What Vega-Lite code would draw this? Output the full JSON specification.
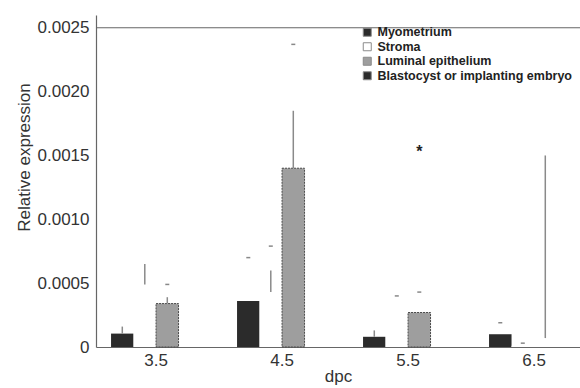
{
  "$schema": "https://vega.github.io/schema/vega-lite/v6.json",
  "width": 484,
  "height": 332,
  "autosize": {"type": "none"},
  "padding": {"left": 96, "top": 15, "right": 0, "bottom": 41},
  "background": "white",
  "view": {"stroke": null},
  "config": {
    "font": "Liberation Sans",
    "axis": {"grid": false, "ticks": false, "domainColor": "#666", "domainWidth": 1.2, "labelColor": "#333", "titleColor": "#333", "titleFontWeight": "normal", "labelFont": "Liberation Sans", "titleFont": "Liberation Sans"}
  },
  "data": {
    "values": [
      {"dpc": "3.5", "tissue": "Myometrium", "value": 0.000105, "lo": 0.000105, "hi": 0.00016, "cap": null, "star": null},
      {"dpc": "3.5", "tissue": "Stroma", "value": 0.00049, "lo": 0.00049, "hi": 0.00065, "cap": null, "star": null},
      {"dpc": "3.5", "tissue": "Luminal epithelium", "value": 0.00034, "lo": 0.00034, "hi": 0.00039, "cap": 0.00049, "star": null},
      {"dpc": "3.5", "tissue": "Blastocyst or implanting embryo", "value": null, "lo": null, "hi": null, "cap": null, "star": null},
      {"dpc": "4.5", "tissue": "Myometrium", "value": 0.00036, "lo": null, "hi": null, "cap": 0.0007, "star": null},
      {"dpc": "4.5", "tissue": "Stroma", "value": 0.00043, "lo": 0.00043, "hi": 0.0006, "cap": 0.00079, "star": null},
      {"dpc": "4.5", "tissue": "Luminal epithelium", "value": 0.0014, "lo": 0.0014, "hi": 0.00185, "cap": 0.00237, "star": null},
      {"dpc": "4.5", "tissue": "Blastocyst or implanting embryo", "value": null, "lo": null, "hi": null, "cap": null, "star": null},
      {"dpc": "5.5", "tissue": "Myometrium", "value": 0.00008, "lo": 0.00008, "hi": 0.00013, "cap": null, "star": null},
      {"dpc": "5.5", "tissue": "Stroma", "value": 0.0002, "lo": null, "hi": null, "cap": 0.0004, "star": null},
      {"dpc": "5.5", "tissue": "Luminal epithelium", "value": 0.00027, "lo": null, "hi": null, "cap": 0.00043, "star": 0.00155},
      {"dpc": "5.5", "tissue": "Blastocyst or implanting embryo", "value": null, "lo": null, "hi": null, "cap": null, "star": null},
      {"dpc": "6.5", "tissue": "Myometrium", "value": 0.0001, "lo": null, "hi": null, "cap": 0.00019, "star": null},
      {"dpc": "6.5", "tissue": "Stroma", "value": 0.00001, "lo": null, "hi": null, "cap": 0.00003, "star": null},
      {"dpc": "6.5", "tissue": "Luminal epithelium", "value": null, "lo": 0.00007, "hi": 0.0015, "cap": null, "star": null},
      {"dpc": "6.5", "tissue": "Blastocyst or implanting embryo", "value": null, "lo": null, "hi": null, "cap": null, "star": null}
    ]
  },
  "layer": [
    {
      "mark": {"type": "bar", "strokeWidth": 1},
      "encoding": {
        "x": {"field": "dpc", "type": "nominal", "sort": ["3.5", "4.5", "5.5", "6.5"], "scale": {"paddingInner": 0.2857, "paddingOuter": 0.0635, "align": 0.94}, "axis": {"title": "dpc", "labelAngle": 0, "labelFontSize": 17, "labelPadding": 5, "titleFontSize": 17, "titlePadding": 0}},
        "xOffset": {"field": "tissue", "type": "nominal", "sort": ["Myometrium", "Stroma", "Luminal epithelium", "Blastocyst or implanting embryo"], "scale": {"domain": ["Myometrium", "Stroma", "Luminal epithelium", "Blastocyst or implanting embryo"], "paddingInner": 0, "paddingOuter": 0}},
        "y": {"field": "value", "type": "quantitative", "scale": {"domain": [0, 0.0025]}, "axis": {"title": "Relative expression", "values": [0, 0.0005, 0.001, 0.0015, 0.002, 0.0025], "labelExpr": "datum.value === 0 ? '0' : format(datum.value, '.4f')", "labelFontSize": 17, "labelPadding": 7, "titleFontSize": 17, "titleX": -63, "titleY": 142, "titleAngle": 270, "titleAlign": "center", "titleBaseline": "bottom"}},
        "fill": {"field": "tissue", "type": "nominal", "scale": {"domain": ["Myometrium", "Stroma", "Luminal epithelium", "Blastocyst or implanting embryo"], "range": ["#2b2b2b", "#ffffff", "#9e9e9e", "#2b2b2b"]}, "legend": {"orient": "none", "legendX": 265, "legendY": 11, "title": null, "symbolType": "square", "symbolSize": 64, "symbolStrokeColor": "#8a8a8a", "symbolStrokeWidth": 1, "labelFont": "Liberation Sans", "labelFontWeight": "bold", "labelFontSize": 12.5, "labelColor": "#222", "labelLimit": 400, "rowPadding": 1.5, "padding": 0, "labelOffset": 4}},
        "stroke": {"condition": {"test": "datum.tissue === 'Luminal epithelium'", "value": "#4a4a4a"}, "value": null},
        "strokeDash": {"condition": {"test": "datum.tissue === 'Luminal epithelium'", "value": [2, 1]}, "value": [1, 0]}
      }
    },
    {
      "mark": {"type": "rule", "color": "#8a8a8a", "strokeWidth": 1.5},
      "encoding": {
        "x": {"field": "dpc", "type": "nominal", "sort": ["3.5", "4.5", "5.5", "6.5"]},
        "xOffset": {"field": "tissue", "type": "nominal", "sort": ["Myometrium", "Stroma", "Luminal epithelium", "Blastocyst or implanting embryo"]},
        "y": {"field": "lo", "type": "quantitative"},
        "y2": {"field": "hi"}
      }
    },
    {
      "mark": {"type": "tick", "color": "#555", "size": 4, "thickness": 1.5, "orient": "horizontal"},
      "encoding": {
        "x": {"field": "dpc", "type": "nominal", "sort": ["3.5", "4.5", "5.5", "6.5"]},
        "xOffset": {"field": "tissue", "type": "nominal", "sort": ["Myometrium", "Stroma", "Luminal epithelium", "Blastocyst or implanting embryo"]},
        "y": {"field": "cap", "type": "quantitative"}
      }
    },
    {
      "mark": {"type": "text", "text": "*", "fontSize": 16, "fontWeight": "bold", "color": "#222", "baseline": "middle", "dy": 3},
      "encoding": {
        "x": {"field": "dpc", "type": "nominal", "sort": ["3.5", "4.5", "5.5", "6.5"]},
        "xOffset": {"field": "tissue", "type": "nominal", "sort": ["Myometrium", "Stroma", "Luminal epithelium", "Blastocyst or implanting embryo"]},
        "y": {"field": "star", "type": "quantitative"}
      }
    },
    {
      "data": {"values": [{"top": 0.0025}]},
      "mark": {"type": "rule", "color": "#666", "strokeWidth": 1.2},
      "encoding": {"y": {"field": "top", "type": "quantitative"}}
    }
  ]
}
